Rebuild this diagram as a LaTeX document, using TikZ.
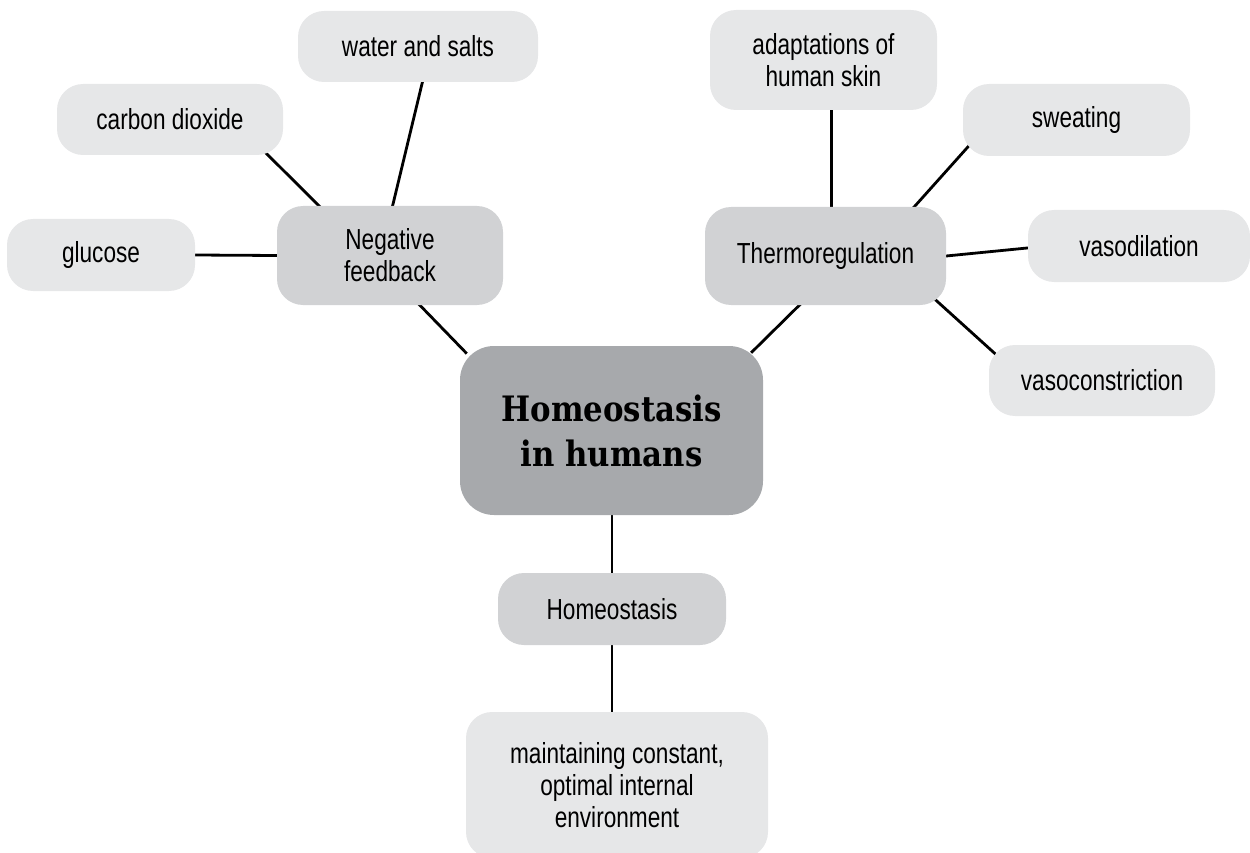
\documentclass[tikz,border=0pt]{standalone}
\usepackage{fontspec}
\setmainfont{Liberation Sans}[FakeStretch=0.78]
\newfontfamily\titlefont{DejaVu Serif}[FakeStretch=0.88]
\usetikzlibrary{backgrounds,calc}
\definecolor{boxlight}{HTML}{E6E7E8}
\definecolor{boxmid}{HTML}{D1D2D4}
\definecolor{boxdark}{HTML}{A7A9AC}
\tikzset{
  leaf/.style={rectangle, rounded corners=26pt, fill=boxlight, inner sep=0pt,
    align=center, font=\fontsize{29}{32}\selectfont},
  hub/.style={leaf, fill=boxmid},
  core/.style={rectangle, rounded corners=34pt, fill=boxdark, inner sep=0pt,
    align=center, font=\titlefont\bfseries\fontsize{35}{45}\selectfont},
  link/.style={line width=2.8pt, black, shorten <=-10pt, shorten >=-10pt}
}
\begin{document}
\begin{tikzpicture}[x=1pt, y=-1pt]
\useasboundingbox (0,0) rectangle (1250,853);

% central topic
\node[core, minimum width=303pt, minimum height=169pt] (hh) at (611.5,430.5) {Homeostasis\\in humans};

% first-level topics
\node[hub, minimum width=226pt, minimum height=99pt] (nf) at (390,255.5) {Negative\\feedback};
\node[hub, minimum width=241pt, minimum height=98pt] (th) at (825.5,256) {Thermoregulation};
\node[hub, minimum width=228pt, minimum height=72pt] (ho) at (612,609) {Homeostasis};

% details of negative feedback
\node[leaf, minimum width=240pt, minimum height=71pt] (ws) at (418,46.5) {water and salts};
\node[leaf, minimum width=226pt, minimum height=71pt] (cd) at (170,119.5) {carbon dioxide};
\node[leaf, minimum width=188pt, minimum height=72pt] (gl) at (101,255) {glucose};

% details of thermoregulation
\node[leaf, minimum width=227pt, minimum height=100pt] (ad) at (823.5,60) {adaptations of\\human skin};
\node[leaf, minimum width=227pt, minimum height=72pt] (sw) at (1076.5,120) {sweating};
\node[leaf, minimum width=222pt, minimum height=72pt] (vd) at (1139,246) {vasodilation};
\node[leaf, minimum width=226pt, minimum height=71pt] (vc) at (1102,380.5) {vasoconstriction};

% meaning of homeostasis
\node[leaf, minimum width=302pt, minimum height=146pt] (mt) at (617,785) {maintaining constant,\\optimal internal\\environment};

\begin{pgfonlayer}{background}
  \draw[link] (gl.east) -- (nf.west);
  \draw[link] (cd.-20) -- (nf.145);
  \draw[link] (ws.-83.6) -- (nf.87.7);
  \draw[link] (nf.-59) -- (hh.151);
  \draw[link] (hh.30) -- (th.242.5);
  \draw[link] (ad.-81.5) -- (th.83.6);
  \draw[link] (sw.196.7) -- (th.29.5);
  \draw[link] (vd.181) -- (th.east);
  \draw[link] (th.-23.8) -- (vc.164.7);
  \draw[link] (ho.north |- hh.south) -- (ho.north);
  \draw[link] (ho.south) -- (ho.south |- mt.north);
\end{pgfonlayer}
\end{tikzpicture}
\end{document}
